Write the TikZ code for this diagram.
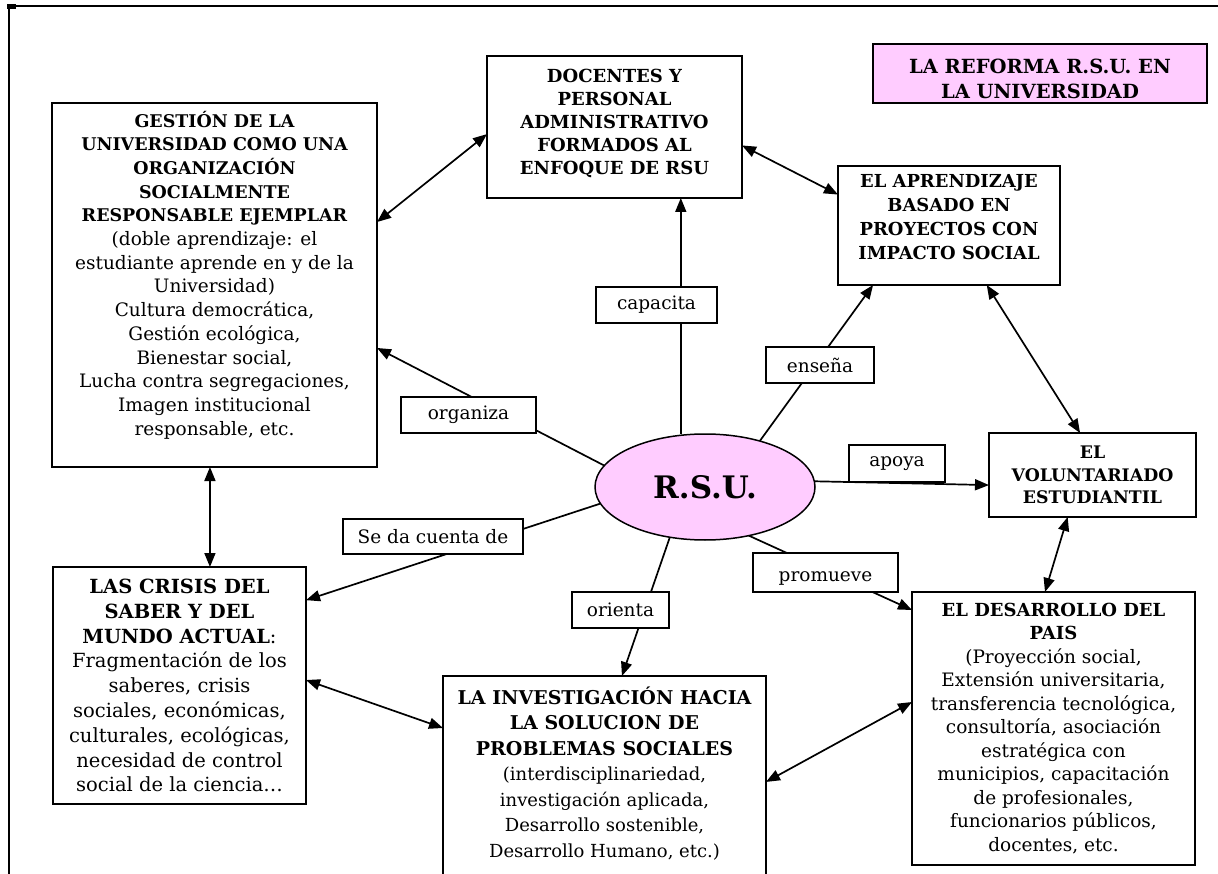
\documentclass[tikz,border=0pt]{standalone}
\usepackage{fontspec}
\setmainfont{DejaVu Serif}
\usetikzlibrary{arrows.meta,calc,shapes.geometric}
\definecolor{rosa}{HTML}{FFCCFF}
\pgfdeclarelayer{bg}
\pgfsetlayers{bg,main}
\newcommand\hb[2]{{\fontsize{#1}{\the\baselineskip}\selectfont\bfseries #2}}
\newcommand\lowpad[1]{\rule[-#1]{0pt}{#1}}
\tikzset{
  box/.style={draw, line width=1.9pt, fill=white, align=center, inner sep=3pt, outer sep=0pt},
  lbl/.style={draw, line width=1.5pt, fill=white, inner sep=0pt, outer sep=0pt, font=\fontsize{18.5}{20}\selectfont},
  conn/.style={line width=1.7pt},
  oneway/.style={-{Triangle[length=14pt,width=11pt]}},
  twoway/.style={{Triangle[length=14pt,width=11pt]}-{Triangle[length=14pt,width=11pt]}},
  frameline/.style={line width=1.8pt}
}
\begin{document}
\begin{tikzpicture}[x=1pt,y=-1pt]
\useasboundingbox (0,0) rectangle (1218,874);
\clip (0,0) rectangle (1218,874);
\begin{pgfonlayer}{bg}
\fill[white] (0,0) rectangle (1218,874);
\end{pgfonlayer}
% frame
\draw[frameline] (9,6) -- (1218,6);
\draw[frameline] (9,6) -- (9,874);
\fill (7,4) rectangle (16,9);

% boxes
\node[box, minimum width=325pt, minimum height=364pt, font=\fontsize{18.5}{23.7}\selectfont] (gestion) at (214.5,285)
 {\hb{17.5}{GESTIÓN DE LA}\\\hb{17.5}{UNIVERSIDAD COMO UNA}\\\hb{17.5}{ORGANIZACIÓN}\\\hb{17.5}{SOCIALMENTE}\\\hb{17.5}{RESPONSABLE EJEMPLAR}\\
  (doble aprendizaje: el\\estudiante aprende en y de la\\Universidad)\\Cultura democrática,\\Gestión ecológica,\\Bienestar social,\\Lucha contra segregaciones,\\Imagen institucional\\responsable, etc.\lowpad{24pt}};

\node[box, minimum width=255pt, minimum height=142pt, font=\fontsize{18}{23}\selectfont\bfseries] (docentes) at (614.5,127)
 {DOCENTES Y\\PERSONAL\\ADMINISTRATIVO\\FORMADOS AL\\ENFOQUE DE RSU\lowpad{10pt}};

\node[box, minimum width=222pt, minimum height=119pt, font=\fontsize{17.9}{24}\selectfont\bfseries] (aprend) at (949,225.5)
 {EL APRENDIZAJE\\BASADO EN\\PROYECTOS CON\\IMPACTO SOCIAL\lowpad{17pt}};

\node[box, fill=rosa, minimum width=334pt, minimum height=59pt, font=\fontsize{19.5}{25}\selectfont\bfseries] (reforma) at (1040,73.5)
 {\rule{0pt}{26pt}LA REFORMA R.S.U. EN\\LA UNIVERSIDAD};

\node[box, minimum width=207pt, minimum height=84pt, font=\fontsize{17.3}{22.5}\selectfont\bfseries] (volunt) at (1092.5,475)
 {EL\\VOLUNTARIADO\\ESTUDIANTIL};

\node[box, minimum width=283pt, minimum height=273pt, font=\fontsize{18.5}{23.5}\selectfont] (desarr) at (1053.5,728.5)
 {\hb{18}{EL DESARROLLO DEL}\\\hb{18}{PAIS}\\(Proyección social,\\Extensión universitaria,\\transferencia tecnológica,\\consultoría, asociación\\estratégica con\\municipios, capacitación\\de profesionales,\\funcionarios públicos,\\docentes, etc.};

\node[box, minimum width=323pt, minimum height=214pt, font=\fontsize{18}{25.5}\selectfont] (invest) at (604.5,783)
 {\hb{19}{LA INVESTIGACIÓN HACIA}\\\hb{19}{LA SOLUCION DE}\\\hb{19}{PROBLEMAS SOCIALES}\\(interdisciplinariedad,\\investigación aplicada,\\Desarrollo sostenible,\\Desarrollo Humano, etc.)\lowpad{22pt}};

\node[box, minimum width=253pt, minimum height=237pt, font=\fontsize{19.5}{24.8}\selectfont] (crisis) at (179.5,685.5)
 {\textbf{LAS CRISIS DEL}\\\textbf{SABER Y DEL}\\\textbf{MUNDO ACTUAL}:\\Fragmentación de los\\saberes, crisis\\sociales, económicas,\\culturales, ecológicas,\\necesidad de control\\social de la ciencia…};

\node[draw, ellipse, fill=rosa, line width=1.5pt, minimum width=220pt, minimum height=106pt, inner sep=0pt, outer sep=0pt,
      font=\fontsize{31}{33}\selectfont\bfseries] (rsu) at (705,487) {R.S.U.};

% connectors
\begin{pgfonlayer}{bg}
\draw[conn,twoway] ($(gestion.north east)!0.327!(gestion.south east)$) -- ($(docentes.north west)!0.55!(docentes.south west)$);
\draw[conn,twoway] ($(docentes.north east)!0.63!(docentes.south east)$) -- ($(aprend.north west)!0.24!(aprend.south west)$);
\coordinate (dcap) at ($(docentes.south west)!0.76!(docentes.south east)$);
\draw[conn,oneway] (dcap |- rsu.north) -- (dcap);
\draw[conn,oneway] (rsu.40) -- ($(aprend.south west)!0.158!(aprend.south east)$);
\draw[conn,twoway] ($(aprend.south west)!0.67!(aprend.south east)$) -- ($(volunt.north west)!0.44!(volunt.north east)$);
\draw[conn,oneway] (rsu.3) -- ($(volunt.north west)!0.62!(volunt.south west)$);
\draw[conn,twoway] ($(volunt.south west)!0.38!(volunt.south east)$) -- ($(desarr.north west)!0.47!(desarr.north east)$);
\draw[conn,oneway] (rsu.-48) -- ($(desarr.north west)!0.066!(desarr.south west)$);
\draw[conn,oneway] (rsu.-125) -- ($(invest.north west)!0.554!(invest.north east)$);
\draw[conn,oneway] (rsu.189.5) -- ($(crisis.north east)!0.14!(crisis.south east)$);
\draw[conn,oneway] (rsu.168) -- ($(gestion.north east)!0.673!(gestion.south east)$);
\coordinate (gbot) at ($(gestion.south west)!0.486!(gestion.south east)$);
\draw[conn,twoway] (gbot) -- (gbot |- crisis.north);
\draw[conn,twoway] ($(crisis.north east)!0.477!(crisis.south east)$) -- ($(invest.north west)!0.243!(invest.south west)$);
\draw[conn,twoway] ($(invest.north east)!0.495!(invest.south east)$) -- ($(desarr.north west)!0.403!(desarr.south west)$);
\end{pgfonlayer}

% labels
\node[lbl, minimum width=121pt, minimum height=36pt] (lcap) at (656.5,305) {capacita};
\node[lbl, minimum width=108pt, minimum height=36pt] (lens) at (820,365) {enseña};
\node[lbl, minimum width=135pt, minimum height=36pt] (lorg) at (468.5,415) {organiza};
\node[lbl, minimum width=180pt, minimum height=35pt] (lsed) at (433,536.5) {Se da cuenta de};
\node[lbl, minimum width=96pt, minimum height=37pt] (lapo) at (897,463.5) {apoya};
\node[lbl, minimum width=145pt, minimum height=39pt] (lpro) at (825.5,572.5) {\rule{0pt}{22pt}promueve};
\node[lbl, minimum width=97pt, minimum height=36pt] (lori) at (620.5,610) {orienta};
\end{tikzpicture}
\end{document}
